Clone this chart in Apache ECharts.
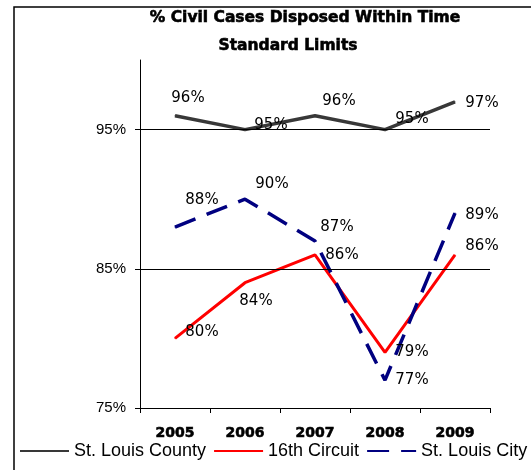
<!DOCTYPE html>
<html>
<head>
<meta charset="utf-8">
<script src="https://cdn.jsdelivr.net/npm/echarts@6/dist/echarts.min.js"></script>
<style>
  html, body { margin: 0; padding: 0; background: #fff; }
  #chart { width: 531px; height: 470px; }
</style>
</head>
<body>
<div id="chart"></div>
<script>
// years and series values (percent)
const years = ["2005", "2006", "2007", "2008", "2009"];
const countyValues = [96, 95, 96, 95, 97];
const circuitValues = [80, 84, 86, 79, 86];
const cityValues = [88, 90, 87, 77, 89];
const yTicks = [75, 85, 95];
const gridValues = [85, 95];

// label offsets from each point (as placed in the original)
const countyOffsets = [[13, -18], [26, -4], [24, -15], [27, -10], [27, 1]];
const circuitOffsets = [[27, -6], [11, 18], [27, 0], [27, 0], [27, -9]];
const cityOffsets = [[27, -27], [27, -15], [22, -14], [27, 0], [27, 2]];

const labelFont = {
  fontFamily: "DejaVu Sans",
  fontSize: 15,
  color: "#000",
};

// build data points with their own label offset
const withLabels = (values, offsets) =>
  values.map((v, i) => ({
    value: v,
    label: { offset: offsets[i] },
  }));

const lineSeries = (name, values, offsets, color, width, type) => ({
  name: name,
  type: "line",
  data: withLabels(values, offsets),
  symbol: "circle",
  symbolSize: 1,
  itemStyle: { color: color, borderWidth: 0 },
  lineStyle: { color: color, width: width, type: type },
  label: {
    show: true,
    position: "inside",
    align: "center",
    verticalAlign: "middle",
    formatter: "{c}%",
    ...labelFont,
  },
  emphasis: { disabled: true },
  silent: true,
  animation: false,
});

const chart = echarts.init(document.getElementById("chart"));

const county = lineSeries("St. Louis County", countyValues, countyOffsets, "#383838", 3.5, "solid");
// horizontal gridlines at 85% and 95%
county.markLine = {
  silent: true,
  symbol: "none",
  label: { show: false },
  lineStyle: { color: "#000", width: 1, type: "solid" },
  data: gridValues.map((v) => ({ yAxis: v })),
  animation: false,
};

const titleStyle = {
  fontFamily: "DejaVu Sans",
  fontWeight: "bold",
  fontSize: 15.5,
  color: "#000",
  textBorderColor: "#000",
  textBorderWidth: 0.6,
};

const option = {
  backgroundColor: "#fff",
  title: [
    {
      text: "% Civil Cases Disposed Within Time",
      left: 300,
      top: 5,
      textAlign: "center",
      textStyle: titleStyle,
    },
    {
      text: "Standard Limits",
      left: 283,
      top: 33,
      textAlign: "center",
      textStyle: titleStyle,
    },
  ],
  graphic: [
    {
      type: "rect",
      shape: { x: 14, y: 7, width: 700, height: 700 },
      style: { fill: "none", stroke: "#000", lineWidth: 1.5 },
      silent: true,
    },
  ],
  legend: {
    left: 19,
    top: 442,
    padding: 0,
    itemWidth: 49,
    itemHeight: 14,
    itemGap: 7,
    selectedMode: false,
    itemStyle: { opacity: 0 },
    textStyle: { fontFamily: "Liberation Sans", fontSize: 18, color: "#000" },
    data: ["St. Louis County", "16th Circuit", "St. Louis City"],
  },
  grid: { left: 140, right: 41, top: 60, bottom: 62 },
  xAxis: {
    type: "category",
    data: years,
    boundaryGap: true,
    axisLine: { lineStyle: { color: "#000", width: 1 } },
    axisTick: { show: true, length: 5, lineStyle: { color: "#000" } },
    axisLabel: {
      margin: 18,
      fontFamily: "DejaVu Sans",
      fontWeight: "bold",
      fontSize: 14,
      color: "#000",
      textBorderColor: "#000",
      textBorderWidth: 0.6,
    },
  },
  yAxis: {
    type: "value",
    min: 75,
    max: 100,
    interval: 5,
    axisLine: { show: true, lineStyle: { color: "#000", width: 1 } },
    axisTick: { show: true, length: 5, customValues: yTicks, lineStyle: { color: "#000" } },
    splitLine: { show: false },
    axisLabel: {
      customValues: yTicks,
      margin: 14,
      formatter: "{value}%",
      fontFamily: "Liberation Sans",
      fontSize: 15,
      color: "#000",
    },
  },
  series: [
    county,
    lineSeries("16th Circuit", circuitValues, circuitOffsets, "#ff0000", 3, "solid"),
    lineSeries("St. Louis City", cityValues, cityOffsets, "#000080", 3.5, [22, 12]),
  ],
};

option && chart.setOption(option);
</script>
</body>
</html>
